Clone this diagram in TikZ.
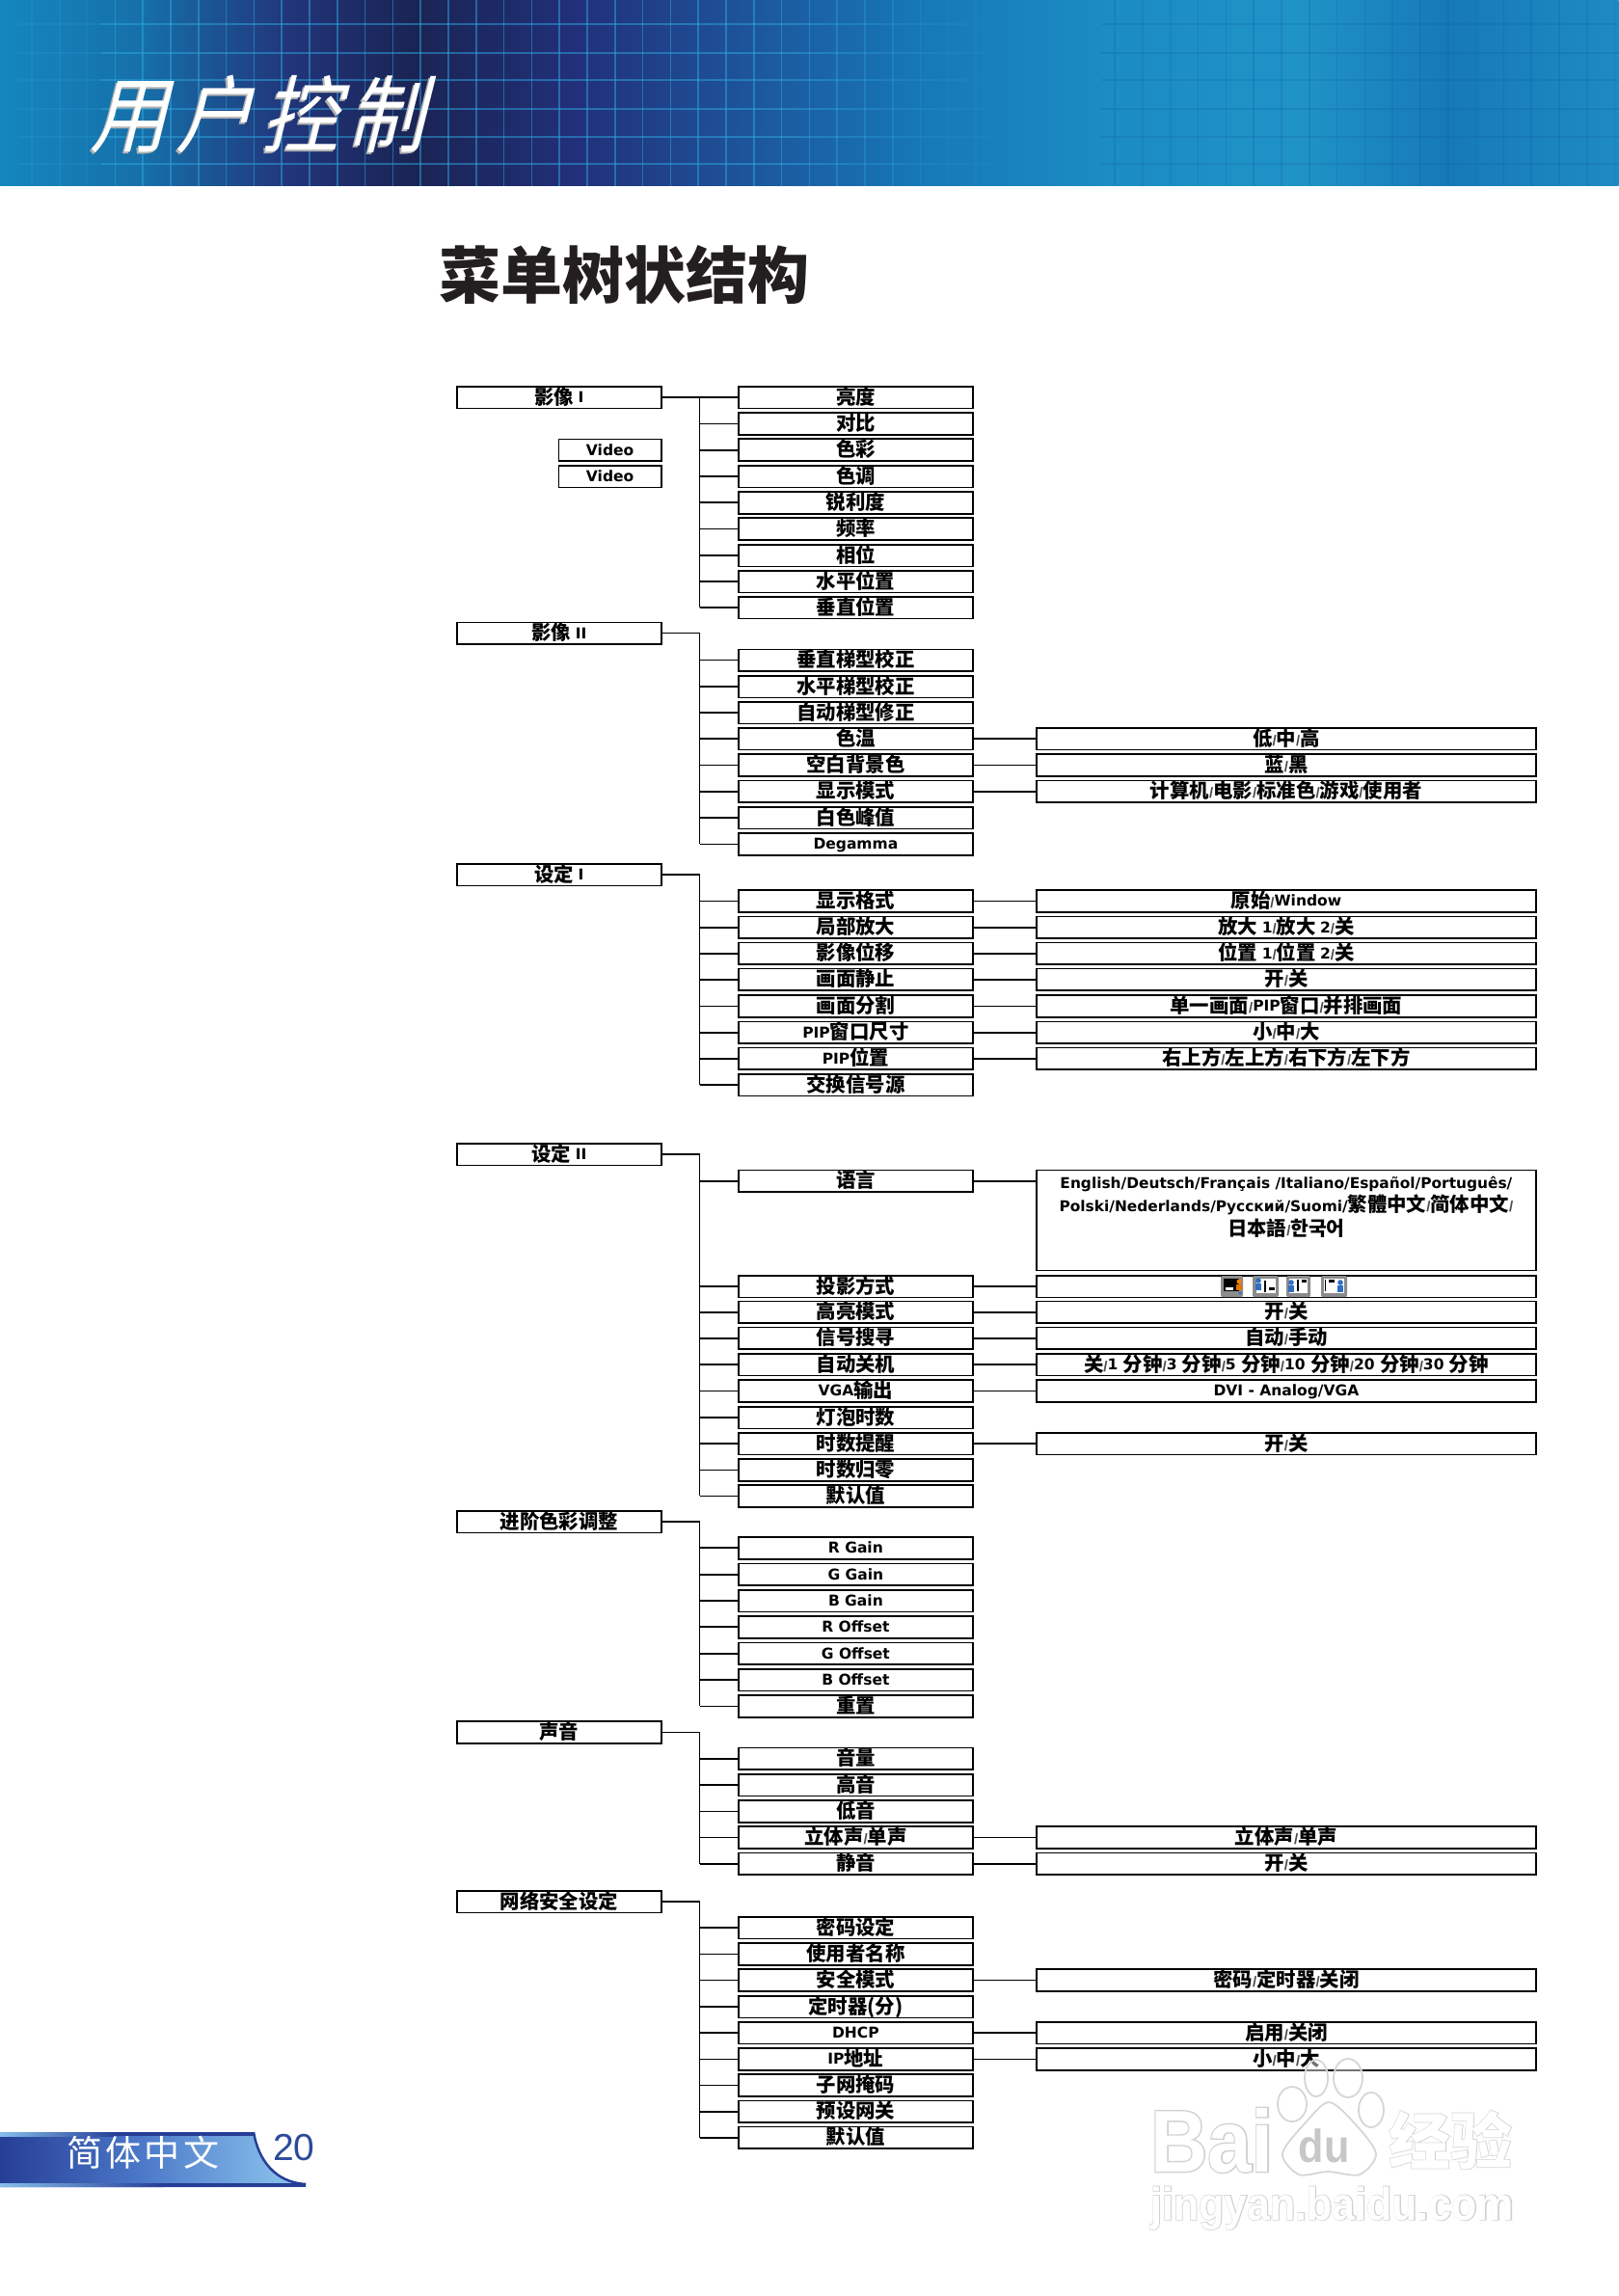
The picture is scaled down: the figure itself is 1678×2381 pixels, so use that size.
\documentclass[tikz,border=0pt]{standalone}
\usepackage{fontspec}
\usetikzlibrary{calc}
\setmainfont{Noto Sans CJK SC}
\newfontfamily\dejab{DejaVu Sans}
\newfontfamily\libr{Liberation Sans}
\newfontfamily\titlefont[FakeSlant=0.25,FakeStretch=0.92]{Noto Sans CJK SC}
\newfontfamily\wmwhite[FakeStretch=0.9]{Liberation Sans}
\newfontfamily\wmgray[FakeStretch=0.9,BoldFeatures={FakeBold=3}]{Liberation Sans}
\newfontfamily\wmcjkgray[BoldFeatures={FakeBold=2}]{Noto Sans CJK SC}
\newcommand\lat[1]{{\dejab\bfseries\fontsize{15.5}{15.5}\selectfont\raisebox{1.5pt}{#1}}}
\newcommand\SL{{\libr\fontsize{15}{15}\selectfont\textcolor{black!70}{/}}}
\definecolor{c0}{HTML}{1487BF}\definecolor{c1}{HTML}{166FA8}\definecolor{c2}{HTML}{21357A}
\definecolor{c3}{HTML}{1A2454}\definecolor{c4}{HTML}{21307A}\definecolor{c5}{HTML}{1C5A9F}
\definecolor{c6}{HTML}{1679B8}\definecolor{c7}{HTML}{1B8CC4}\definecolor{c8}{HTML}{1F93C6}
\definecolor{c9}{HTML}{1679B9}\definecolor{c10}{HTML}{1D8BC2}
\definecolor{gridlight}{HTML}{2FA6E0}\definecolor{griddark}{HTML}{10589F}
\definecolor{footdark}{HTML}{263E96}\definecolor{footmid}{HTML}{4B78C8}\definecolor{footlight}{HTML}{86BEEA}
\definecolor{pagenum}{HTML}{2B4A9B}\definecolor{headtext}{HTML}{231F20}
\definecolor{iconblue}{HTML}{2F6FC0}
\tikzset{
  x=1pt,y=-1pt,
  boxbase/.style={draw=black,line width=1.7pt,fill=white,minimum height=22.7pt,inner sep=0pt,text height=16pt,text depth=2pt,font=\bfseries\fontsize{20.4}{20.4}\selectfont,anchor=center},
  topb/.style={boxbase,minimum width=212pt},
  vidb/.style={boxbase,minimum width=106.4pt},
  midb/.style={boxbase,minimum width=243pt},
  subb/.style={boxbase,minimum width=518.2pt},
  tn/.style={line width=1.1pt,draw=black},
  tk/.style={line width=2.2pt,draw=black},
  spineline/.style={line width=1.4pt,draw=black},
  wmline/.style={draw=black!16,line width=1.8pt,fill=white,fill opacity=.45},
  iconframe/.style={fill=black!45,rounded corners=2pt},
}
\newcommand\topbox[4]{%
  \node[topb] (#1) at (579.8,#2) {#4};
  \coordinate (s#1) at (725.7,#2);
  \draw[#3] (#1.east) -- (s#1);}
\newcommand\midbox[5]{% spine name, node name, y, conn, text
  \node[midb] (#2) at (887.4,#3) {#5};
  \draw[#4] (#2.west) -- (#2.west -| s#1);}
\newcommand\subbox[5]{% mid node, node name, y, conn, text
  \node[subb] (#2) at (1333.9,#3) {#5};
  \draw[#4] (#1.east) -- (#2.west);}
\newcommand\spinedown[2]{\draw[spineline] (s#1) -- (s#1 |- #2.west);}
\begin{document}
\begin{tikzpicture}
\useasboundingbox (0,0) rectangle (1678,2381);
% header band
\foreach \xa/\xb/\ca/\cb in {0/150/c0/c1,150/300/c1/c2,300/430/c2/c3,430/600/c3/c4,600/800/c4/c5,800/960/c5/c6,960/1150/c6/c7,1150/1350/c7/c8,1350/1500/c8/c9,1500/1678/c9/c10}{
  \shade[left color=\ca,right color=\cb] (\xa,0) rectangle (\xb+0.5,193);
}
\foreach \k in {0,...,57}{
  \pgfmathsetmacro\xx{33+28.8*\k}
  \pgfmathsetmacro\lop{\xx<100?0.18:(\xx<820?0.5:max(0,0.5*(1060-\xx)/240))}
  \pgfmathsetmacro\dop{\xx>1130?0.2:0}
  \draw[gridlight,line width=1.5pt,opacity=\lop] (\xx,0) -- (\xx,193);
  \draw[griddark,line width=1.5pt,opacity=\dop] (\xx,0) -- (\xx,193);
  \foreach \yy in {25,55,83,113,142,170}{
    \draw[gridlight,line width=1.5pt,opacity=\lop] (\xx-14.4,\yy) -- (\xx+14.4,\yy);
    \draw[griddark,line width=1.5pt,opacity=\dop] (\xx-14.4,\yy) -- (\xx+14.4,\yy);
  }
}
\node[anchor=base west,inner sep=0pt,text=black!30] (titleshadow) at (91,154) {\titlefont\fontsize{87}{87}\selectfont 用\kern9pt户\kern9pt控\kern9pt制};
\node[anchor=base west,inner sep=0pt,text=white] (titlemain) at (93,152) {\titlefont\fontsize{87}{87}\selectfont 用\kern9pt户\kern9pt控\kern9pt制};
% heading
\node[anchor=base west,inner sep=0pt,text=headtext] (heading) at (455,310) {\bfseries\fontsize{64}{64}\selectfont 菜单树状结构};

% section 1
\topbox{ta}{412}{tn}{影像 \lat{I}}
\node[vidb] (va) at (632.6,466.7) {\lat{Video}};
\node[vidb] (vb) at (632.6,494) {\lat{Video}};
\midbox{ta}{a1}{412}{tn}{亮度}
\midbox{ta}{a2}{439.3}{tn}{对比}
\midbox{ta}{a3}{466.6}{tk}{色彩}
\midbox{ta}{a4}{494}{tk}{色调}
\midbox{ta}{a5}{521.3}{tk}{锐利度}
\midbox{ta}{a6}{548.6}{tn}{频率}
\midbox{ta}{a7}{576}{tk}{相位}
\midbox{ta}{a8}{603}{tk}{水平位置}
\midbox{ta}{a9}{630}{tk}{垂直位置}
\spinedown{ta}{a9}
% section 2
\topbox{tb}{656.7}{tn}{影像 \lat{II}}
\midbox{tb}{b1}{684.7}{tn}{垂直梯型校正}
\midbox{tb}{b2}{712}{tk}{水平梯型校正}
\midbox{tb}{b3}{739}{tk}{自动梯型修正}
\midbox{tb}{b4}{766}{tn}{色温}
\midbox{tb}{b5}{793.3}{tn}{空白背景色}
\midbox{tb}{b6}{820.7}{tk}{显示模式}
\midbox{tb}{b7}{848}{tk}{白色峰值}
\midbox{tb}{b8}{875.3}{tn}{\lat{Degamma}}
\spinedown{tb}{b8}
\subbox{b4}{rb4}{766}{tn}{低\SL 中\SL 高}
\subbox{b5}{rb5}{793.3}{tn}{蓝\SL 黑}
\subbox{b6}{rb6}{820.7}{tk}{计算机\SL 电影\SL 标准色\SL 游戏\SL 使用者}
% section 3
\topbox{tc}{907}{tn}{设定 \lat{I}}
\midbox{tc}{c1}{934.3}{tn}{显示格式}
\midbox{tc}{c2}{961.7}{tk}{局部放大}
\midbox{tc}{c3}{988.7}{tk}{影像位移}
\midbox{tc}{c4}{1015.7}{tk}{画面静止}
\midbox{tc}{c5}{1043.3}{tn}{画面分割}
\midbox{tc}{c6}{1070.7}{tk}{\lat{PIP}窗口尺寸}
\midbox{tc}{c7}{1097.7}{tk}{\lat{PIP}位置}
\midbox{tc}{c8}{1125}{tk}{交换信号源}
\spinedown{tc}{c8}
\subbox{c1}{rc1}{934.3}{tn}{原始\SL\lat{Window}}
\subbox{c2}{rc2}{961.7}{tk}{放大 \lat{1}\SL 放大 \lat{2}\SL 关}
\subbox{c3}{rc3}{988.7}{tk}{位置 \lat{1}\SL 位置 \lat{2}\SL 关}
\subbox{c4}{rc4}{1015.7}{tk}{开\SL 关}
\subbox{c5}{rc5}{1043.3}{tn}{单一画面\SL\lat{PIP}窗口\SL 并排画面}
\subbox{c6}{rc6}{1070.7}{tk}{小\SL 中\SL 大}
\subbox{c7}{rc7}{1097.7}{tk}{右上方\SL 左上方\SL 右下方\SL 左下方}
% section 4
\topbox{td}{1197}{tn}{设定 \lat{II}}
\midbox{td}{d1}{1224.7}{tk}{语言}
\midbox{td}{d2}{1334}{tk}{投影方式}
\midbox{td}{d3}{1360.7}{tk}{高亮模式}
\midbox{td}{d4}{1387.7}{tk}{信号搜寻}
\midbox{td}{d5}{1415}{tn}{自动关机}
\midbox{td}{d6}{1442.3}{tn}{\lat{VGA}输出}
\midbox{td}{d7}{1470}{tk}{灯泡时数}
\midbox{td}{d8}{1497}{tk}{时数提醒}
\midbox{td}{d9}{1524.3}{tn}{时数归零}
\midbox{td}{d10}{1551.3}{tn}{默认值}
\spinedown{td}{d10}
\node[draw=black,line width=1.5pt,fill=white,minimum width=518.2pt,minimum height=104pt,inner sep=0pt] (rd1) at (1333.9,1265.3) {};
\draw[tk] (d1.east) -- (d1.east -| rd1.west);
\node[align=center,inner sep=0pt,font=\bfseries\fontsize{20.4}{24.6}\selectfont,anchor=north] (langtext) at (1333.9,1219.5) {%
  {\dejab\fontsize{15.4}{24.6}\selectfont English/Deutsch/Français /Italiano/Español/Português/}\\
  {\dejab\fontsize{15.4}{24.6}\selectfont Polski/Nederlands/Русский/Suomi/}繁體中文\SL 简体中文\SL\\
  日本語\SL 한국어};
\subbox{d2}{rd2}{1334}{tk}{}
\subbox{d3}{rd3}{1360.7}{tk}{开\SL 关}
\subbox{d4}{rd4}{1387.7}{tk}{自动\SL 手动}
\subbox{d5}{rd5}{1415}{tn}{关\SL\lat{1 }分钟\SL\lat{3 }分钟\SL\lat{5 }分钟\SL\lat{10 }分钟\SL\lat{20 }分钟\SL\lat{30 }分钟}
\subbox{d6}{rd6}{1442.3}{tn}{\lat{DVI - Analog/VGA}}
\subbox{d8}{rd8}{1497}{tk}{开\SL 关}
% projection icons
\fill[iconframe] (1266,1323) rectangle (1289,1345);
\fill[black] (1269,1326) rectangle (1285,1339);
\fill[white] (1271,1335) rectangle (1279,1338);
\fill[orange] (1285,1329) circle (2.5pt);
\fill[orange!90!black] (1282,1332) rectangle (1288,1338);
\fill[iconblue] (1286,1341) circle (1.6pt);
\fill[iconframe] (1299,1323) rectangle (1326,1345);
\fill[white] (1303,1326) rectangle (1323,1341);
\fill[iconblue] (1305,1328) circle (2.8pt);
\fill[iconblue] (1302,1331) rectangle (1308,1338);
\draw[black,line width=1.2pt] (1312,1328) -- (1312,1340);
\fill[black] (1316,1335) rectangle (1322,1338);
\fill[iconframe] (1334,1323) rectangle (1359,1345);
\fill[white] (1337,1326) rectangle (1356,1341);
\fill[iconblue] (1339,1330) circle (2.8pt);
\fill[iconblue] (1336,1333) rectangle (1342,1340);
\draw[black,line width=1.2pt] (1346,1327) -- (1346,1339);
\fill[black] (1350,1327) rectangle (1355,1330);
\fill[iconframe] (1370,1323) rectangle (1397,1345);
\fill[white] (1373,1326) rectangle (1394,1341);
\fill[iconblue] (1390,1330) circle (2.8pt);
\fill[iconblue] (1387,1333) rectangle (1393,1340);
\draw[black,line width=1.2pt] (1374.5,1327) -- (1374.5,1339);
\fill[black] (1378,1327) rectangle (1384,1330);
% section 5
\topbox{te}{1578}{tk}{进阶色彩调整}
\midbox{te}{e1}{1605.3}{tk}{\lat{R Gain}}
\midbox{te}{e2}{1632.7}{tk}{\lat{G Gain}}
\midbox{te}{e3}{1660}{tn}{\lat{B Gain}}
\midbox{te}{e4}{1687.3}{tk}{\lat{R Offset}}
\midbox{te}{e5}{1714.7}{tk}{\lat{G Offset}}
\midbox{te}{e6}{1742}{tk}{\lat{B Offset}}
\midbox{te}{e7}{1769.3}{tn}{重置}
\spinedown{te}{e7}
% section 6
\topbox{tf}{1796.3}{tn}{声音}
\midbox{tf}{f1}{1823.7}{tk}{音量}
\midbox{tf}{f2}{1851}{tk}{高音}
\midbox{tf}{f3}{1878.3}{tn}{低音}
\midbox{tf}{f4}{1905.3}{tn}{立体声\SL 单声}
\midbox{tf}{f5}{1932.7}{tk}{静音}
\spinedown{tf}{f5}
\subbox{f4}{rf4}{1905.3}{tn}{立体声\SL 单声}
\subbox{f5}{rf5}{1932.7}{tk}{开\SL 关}
% section 7
\topbox{tg}{1972}{tk}{网络安全设定}
\midbox{tg}{g1}{1999}{tk}{密码设定}
\midbox{tg}{g2}{2026.3}{tn}{使用者名称}
\midbox{tg}{g3}{2053.3}{tn}{安全模式}
\midbox{tg}{g4}{2081}{tk}{定时器(分)}
\midbox{tg}{g5}{2108}{tk}{\lat{DHCP}}
\midbox{tg}{g6}{2135.3}{tn}{\lat{IP}地址}
\midbox{tg}{g7}{2162.3}{tn}{子网掩码}
\midbox{tg}{g8}{2189.7}{tk}{预设网关}
\midbox{tg}{g9}{2216.7}{tk}{默认值}
\spinedown{tg}{g9}
\subbox{g3}{rg3}{2053.3}{tn}{密码\SL 定时器\SL 关闭}
\subbox{g5}{rg5}{2108}{tk}{启用\SL 关闭}
\subbox{g6}{rg6}{2135.3}{tn}{小\SL 中\SL 大}
% footer tab
\begin{scope}
  \clip (0,2211) -- (263,2211) .. controls (268,2240) and (285,2263) .. (317,2264) -- (317,2268) -- (0,2268) -- cycle;
  \shade[left color=footdark,right color=footlight,middle color=footmid] (0,2211) rectangle (292,2268);
  \fill[footlight] (292,2211) rectangle (320,2268);
  \shade[left color=footlight,right color=footdark] (0,2211) rectangle (120,2215);
  \fill[footdark] (120,2211) rectangle (320,2215);
  \shade[left color=footlight,right color=footdark] (0,2264) rectangle (170,2268);
  \fill[footdark] (170,2264) rectangle (320,2268);
\end{scope}
\draw[footdark,line width=2.5pt] (263,2211) .. controls (268,2240) and (285,2263) .. (317,2265);
\node[anchor=base west,inner sep=0pt,text=white] (lang) at (69,2246) {\addfontfeature{LetterSpace=9}\fontsize{37}{37}\selectfont 简体中文};
\node[anchor=base west,inner sep=0pt,text=pagenum] (pagenumber) at (283,2240) {\libr\fontsize{39}{39}\selectfont 20};
% watermark
\node[anchor=base west,inner sep=0pt,text=black!18] (wmbaig) at (1193,2252) {\wmgray\bfseries\fontsize{91}{91}\selectfont Bai};
\node[anchor=base west,inner sep=0pt,text=white] (wmbai) at (1193,2252) {\wmwhite\bfseries\fontsize{91}{91}\selectfont Bai};
\foreach \cx/\cy/\rx/\ry in {1340/2182/15/18,1365/2155/12/19,1398/2155/15/20,1422/2188/13/18}{
  \path[wmline] (\cx,\cy) ellipse [x radius=\rx pt,y radius=\ry pt];
}
\path[wmline,smooth cycle] plot coordinates {(1378,2180) (1403,2200) (1427,2233) (1410,2255) (1377,2252) (1347,2255) (1330,2233) (1355,2200)};
\node[anchor=base,inner sep=0pt,text=black!22] (wmdu) at (1373,2242) {\wmwhite\bfseries\fontsize{48}{48}\selectfont du};
\node[anchor=base west,inner sep=0pt,text=black!18] (wmjyg) at (1440,2244) {\wmcjkgray\bfseries\fontsize{64}{64}\selectfont 经验};
\node[anchor=base west,inner sep=0pt,text=white] (wmjy) at (1440,2244) {\bfseries\fontsize{64}{64}\selectfont 经验};
\node[anchor=base west,inner sep=0pt,text=black!18] (wmurlg) at (1193,2302) {\wmgray\bfseries\fontsize{47.7}{47.7}\selectfont jingyan.baidu.com};
\node[anchor=base west,inner sep=0pt,text=white] (wmurl) at (1193,2302) {\wmwhite\bfseries\fontsize{47.7}{47.7}\selectfont jingyan.baidu.com};
\end{tikzpicture}
\end{document}
